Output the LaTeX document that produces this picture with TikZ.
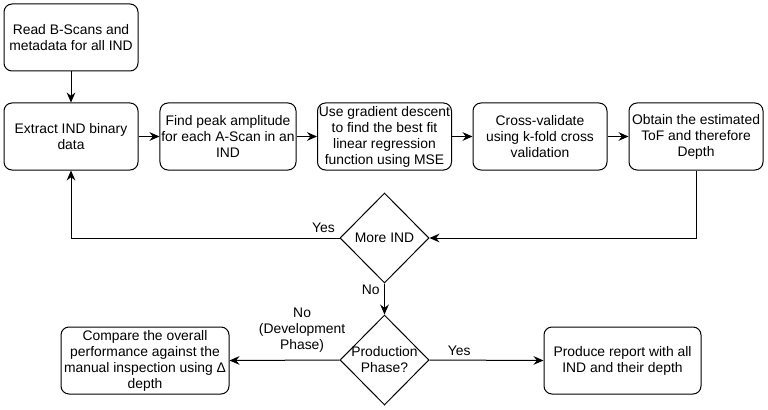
\documentclass[tikz,border=0pt]{standalone}
\usepackage{fontspec}
\setmainfont{Liberation Sans}
\usetikzlibrary{shapes,arrows.meta,positioning}

\tikzset{
  stepbox/.style={draw, rounded corners=6pt, line width=0.75pt, align=center,
    minimum width=100.5pt, minimum height=50.25pt, inner sep=1pt},
  decision/.style={draw, diamond, line width=0.75pt, inner sep=0pt,
    minimum width=66.75pt, minimum height=67.5pt},
  arrow/.style={line width=0.75pt, -{Stealth[length=7.5pt,width=6.5pt,inset=2.5pt]}},
  line/.style={line width=0.75pt}
}

\begin{document}
\begin{tikzpicture}[x=0.75pt, y=-0.75pt, font=\fontsize{10.4}{12}\selectfont]
\useasboundingbox (0,0) rectangle (768,410);

% top row
\node[stepbox] (read) at (71,37.5) {Read B-Scans and\\metadata for all IND};
\node[stepbox] (extract) at (71,136.5) {Extract IND binary\\data};
\node[stepbox] (peak) at (228,136.5) {Find peak amplitude\\for each A-Scan in an\\IND};
\node[stepbox] (grad) at (384.5,136.5) {Use gradient descent\\to find the best fit\\linear regression\\function using MSE};
\node[stepbox] (cross) at (540,136.5) {Cross-validate\\using k-fold cross\\validation};
\node[stepbox] (obtain) at (696,136.5) {Obtain the estimated\\ToF and therefore\\Depth};

% decisions
\node[decision, label={center:More IND}] (more) at (384.5,238) {};
\node[decision, label={[align=center]center:Production\\Phase?}] (prod) at (384.5,360) {};

% outputs
\node[stepbox, minimum width=126pt] (compare) at (145,360.5) {Compare the overall\\performance against the\\manual inspection using Δ\\depth};
\node[stepbox, minimum width=117.75pt] (produce) at (622.5,360.5) {Produce report with all\\IND and their depth};

% connectors
\draw[arrow] (read) -- (extract);
\draw[arrow] (extract) -- (peak);
\draw[arrow] (peak) -- (grad);
\draw[arrow] (grad) -- (cross);
\draw[arrow] (cross) -- (obtain);
\draw[arrow] (obtain.south) |- (more.east);
\draw[arrow] (more.west) -| node[pos=0.03, above] {Yes} (extract.south);
\draw[arrow] (more.south) -- node[pos=0.2, left] {No} (prod.north);
\draw[arrow] (prod.west) -- node[pos=0.34, above=2pt, align=center] {No\\(Development\\Phase)} (compare.east);
\draw[arrow] (prod.east) -- node[pos=0.26, above] {Yes} (produce.west);
\end{tikzpicture}
\end{document}
